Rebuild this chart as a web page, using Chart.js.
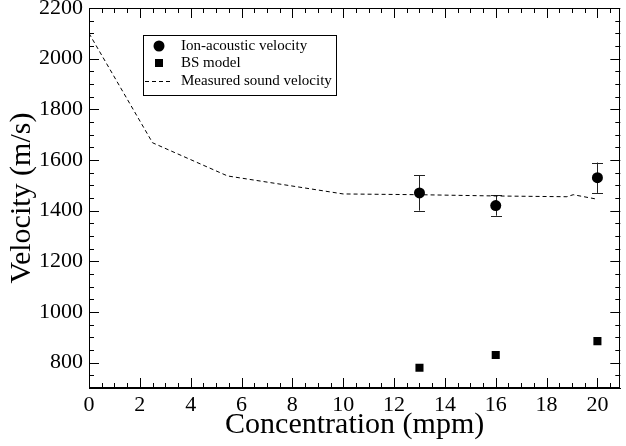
<!DOCTYPE html>
<html>
<head>
<meta charset="utf-8">
<script src="https://cdn.jsdelivr.net/npm/chart.js@4/dist/chart.umd.min.js"></script>
<style>
body{margin:0;background:#fff}
#wrap{width:626px;height:446px;position:relative}
</style>
</head>
<body>
<div id="wrap"><canvas id="velocityChart"></canvas></div>
<script>
// measured sound velocity (dashed curve)
const soundX=[0,2.5,5.45,10,13,16,18.8,19.05,20]
const soundY=[2100,1668,1537,1466,1463,1458,1455,1463,1445]

// ion-acoustic velocity with error bars
const ionX=[13,16,20]
const ionY=[1470,1420,1530]
const ionErr=[70,40,60]

// BS model
const bsX=[13,16,20]
const bsY=[780,830,885]

const SERIF="'Liberation Serif','DejaVu Serif',serif"

const toPts=(xs,ys)=>xs.map((x,i)=>({x:x,y:ys[i]}))

// error bars for the ion-acoustic points
const errorBars={
  id:"errorBars",
  beforeDatasetsDraw(chart){
    const ctx=chart.ctx, xs=chart.scales.x, ys=chart.scales.y
    ctx.save()
    ctx.strokeStyle="#222"
    ctx.lineWidth=1
    ionX.forEach((x,i)=>{
      const px=Math.round(xs.getPixelForValue(x))+0.5
      const top=ys.getPixelForValue(ionY[i]+ionErr[i])
      const bot=ys.getPixelForValue(ionY[i]-ionErr[i])
      ctx.beginPath()
      ctx.moveTo(px,top);ctx.lineTo(px,bot)
      ctx.moveTo(px-5.5,Math.round(top)+0.5);ctx.lineTo(px+5.5,Math.round(top)+0.5)
      ctx.moveTo(px-5.5,Math.round(bot)+0.5);ctx.lineTo(px+5.5,Math.round(bot)+0.5)
      ctx.stroke()
    })
    ctx.restore()
  }
}

// frame with inward major/minor ticks on all four sides
const frameTicks={
  id:"frameTicks",
  afterDraw(chart){
    const ctx=chart.ctx, a=chart.chartArea, xs=chart.scales.x, ys=chart.scales.y
    ctx.save()
    ctx.strokeStyle="#000"
    ctx.lineWidth=1
    ctx.strokeRect(Math.round(a.left)+0.5,Math.round(a.top)+0.5,Math.round(a.right-a.left)-1,Math.round(a.bottom-a.top)-1)
    ctx.beginPath()
    for(let v=0;v<=xs.max+1e-9;v+=0.5){
      const len=(Math.abs(v%2)<1e-9)?10:5
      const px=Math.round(xs.getPixelForValue(v))+0.5
      ctx.moveTo(px,a.bottom);ctx.lineTo(px,a.bottom-len)
      ctx.moveTo(px,a.top);ctx.lineTo(px,a.top+len)
    }
    for(let v=ys.min;v<=ys.max;v+=50){
      const len=(v%200===0)?10:5
      const py=Math.round(ys.getPixelForValue(v))+0.5
      ctx.moveTo(a.left,py);ctx.lineTo(a.left+len,py)
      ctx.moveTo(a.right,py);ctx.lineTo(a.right-len,py)
    }
    ctx.stroke()
    ctx.restore()
  }
}

// boxed legend inside the plot
const boxLegend={
  id:"boxLegend",
  afterDraw(chart){
    const ctx=chart.ctx, ds=chart.data.datasets
    const bx=143.5, by=35.5, bw=193, bh=60
    ctx.save()
    ctx.fillStyle="#fff"
    ctx.fillRect(bx,by,bw,bh)
    ctx.strokeStyle="#000"
    ctx.lineWidth=1
    ctx.strokeRect(bx,by,bw,bh)
    const rows=[46,63,81]
    ctx.fillStyle="#000"
    // circle
    ctx.beginPath();ctx.arc(159,rows[0],5.5,0,Math.PI*2);ctx.fill()
    // square
    ctx.fillRect(155,rows[1]-4,8,8)
    // dashed line
    ctx.setLineDash([4,3])
    ctx.beginPath();ctx.moveTo(145,rows[2]+0.5);ctx.lineTo(171,rows[2]+0.5);ctx.stroke()
    ctx.setLineDash([])
    ctx.font="15px "+SERIF
    ctx.textBaseline="middle"
    ctx.textAlign="left"
    ctx.fillText(ds[0].label,181,rows[0])
    ctx.fillText(ds[1].label,181,rows[1])
    ctx.fillText(ds[2].label,181,rows[2])
    ctx.restore()
  }
}

new Chart(document.getElementById("velocityChart"),{
  type:"scatter",
  data:{
    datasets:[
      {
        label:"Ion-acoustic velocity",
        data:toPts(ionX,ionY),
        pointStyle:"circle",
        pointRadius:5.5,
        backgroundColor:"#000",
        borderColor:"#000",
        borderWidth:0
      },
      {
        label:"BS model",
        data:toPts(bsX,bsY),
        pointStyle:"rect",
        pointRadius:5.7,
        backgroundColor:"#000",
        borderColor:"#000",
        borderWidth:0
      },
      {
        label:"Measured sound velocity",
        data:toPts(soundX,soundY),
        showLine:true,
        pointRadius:0,
        borderColor:"#000",
        borderWidth:1,
        borderDash:[4,3],
        fill:false
      }
    ]
  },
  options:{
    responsive:true,
    maintainAspectRatio:false,
    animation:false,
    layout:{padding:{top:8,right:0,left:0,bottom:0}},
    plugins:{legend:{display:false},tooltip:{enabled:false}},
    scales:{
      x:{
        type:"linear",
        min:0,
        max:20.9,
        grid:{display:false,drawTicks:false,tickLength:0},
        border:{display:true,color:"#000"},
        ticks:{stepSize:2,includeBounds:false,color:"#000",font:{family:SERIF,size:22},padding:4,maxRotation:0,
          callback:v=>String(v)},
        title:{display:true,text:"Concentration (mpm)",color:"#000",font:{family:SERIF,size:30},padding:{top:0,bottom:3}},
        afterFit(s){s.height=58;s.paddingLeft=0;s.paddingRight=0}
      },
      y:{
        min:700,
        max:2200,
        grid:{display:false,drawTicks:false,tickLength:0},
        border:{display:true,color:"#000"},
        ticks:{stepSize:200,includeBounds:false,color:"#000",font:{family:SERIF,size:22},padding:6,
          callback:v=>String(v)},
        title:{display:true,text:"Velocity (m/s)",color:"#000",font:{family:SERIF,size:30},padding:{top:4,bottom:0}},
        afterFit(s){s.width=89;s.paddingTop=0;s.paddingBottom=0}
      }
    }
  },
  plugins:[errorBars,frameTicks,boxLegend]
})
</script>
</body>
</html>
